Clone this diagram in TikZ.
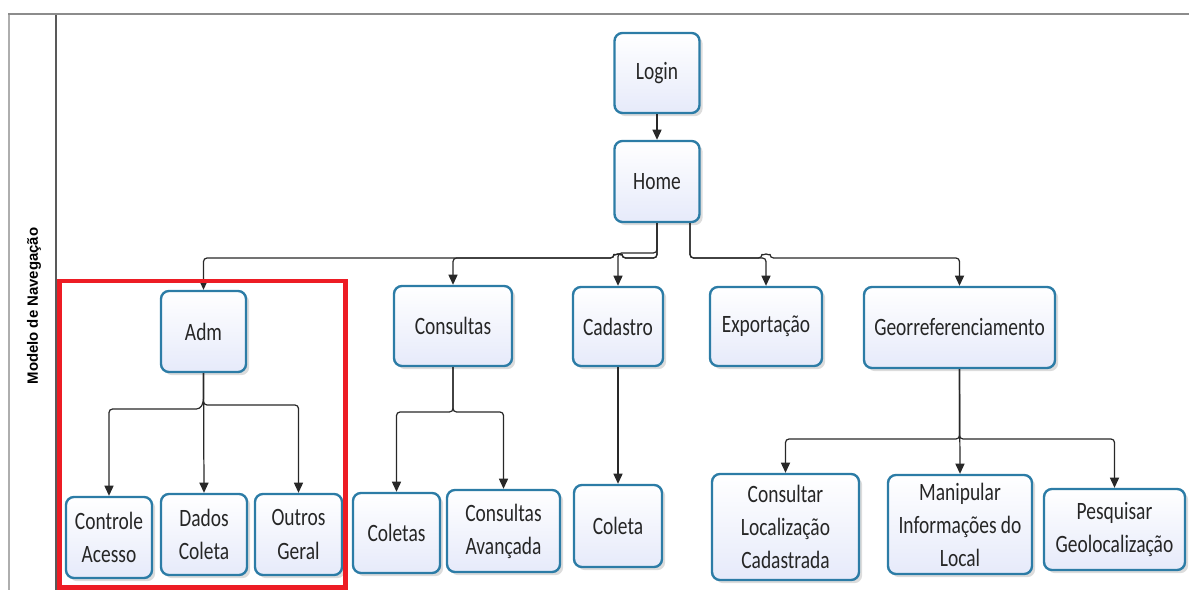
\documentclass[tikz,border=0pt]{standalone}
\usepackage{fontspec}
\setmainfont{Carlito}
\newfontfamily\boxfont[FakeStretch=0.78]{Carlito}
\newfontfamily\lanefont{Liberation Sans}
\usetikzlibrary{arrows.meta,shadows}
\definecolor{boxedge}{RGB}{44,124,166}
\definecolor{boxbottom}{RGB}{230,234,250}
\definecolor{conncol}{RGB}{40,40,40}
\definecolor{framecol}{RGB}{140,140,140}
\definecolor{hilite}{RGB}{237,28,36}
\tikzset{
  navbox/.style={draw=boxedge, line width=1.35pt, rounded corners=4.5pt,
    top color=white, bottom color=boxbottom, inner sep=0pt, align=center,
    text=black!85, font=\boxfont\fontsize{14.2}{18.8}\selectfont,
    drop shadow={shadow xshift=1.8pt, shadow yshift=-1.8pt, fill=black!30, opacity=0.45}},
  conn/.style={draw=conncol, line width=0.7pt, rounded corners=2pt,
    -{Triangle[length=5.8pt,width=5.2pt]}},
  hop/.style={draw=conncol, line width=0.7pt}
}
\newcommand{\bx}[5]{\node[navbox, minimum width=#3*0.02cm, minimum height=#4*0.02cm] (#1) at (#2) {#5};}
\begin{document}
\begin{tikzpicture}[x=0.02cm, y=-0.02cm]
\useasboundingbox (0,0) rectangle (1189,590);

% lane frame
\draw[framecol!70, line width=0.6pt] (9,14) -- (9,590);
\draw[black!65, line width=0.9pt] (56,14) -- (56,590);
\draw[framecol, line width=1.4pt] (8,14) -- (1189,14);
\node[rotate=90, font=\lanefont\bfseries\fontsize{8.5}{10}\selectfont] (lane) at (34,306) {Modelo de Navegação};

% boxes
\bx{login}{657,73}{85}{80}{Login}
\bx{home}{657,181.5}{85}{81}{Home}
\bx{adm}{203.5,331.5}{85}{81}{Adm}
\bx{consultas}{453,326}{118}{80}{Consultas}
\bx{cadastro}{618,326.5}{90}{79}{Cadastro}
\bx{export}{766,326.5}{112}{79}{Exportação}
\bx{georef}{959.5,327.5}{191}{81}{Georreferenciamento}
\bx{controle}{109,537.5}{86}{81}{Controle\\Acesso}
\bx{dados}{204,534.5}{86}{81}{Dados\\Coleta}
\bx{outros}{298.5,534.5}{87}{81}{Outros\\Geral}
\bx{coletas}{396.5,533}{87}{80}{Coletas}
\bx{consav}{503.5,531}{113}{82}{Consultas\\Avançada}
\bx{coleta}{618,526}{88}{82}{Coleta}
\bx{conloc}{785.5,527}{147}{106}{Consultar\\Localização\\Cadastrada}
\bx{manip}{960,524.5}{144}{99}{Manipular\\Informações do\\Local}
\bx{pesq}{1114.5,529.5}{141}{81}{Pesquisar\\Geolocalização}

% bus levels
\coordinate (busA) at (0,253);
\coordinate (busB) at (0,258);
\coordinate (admBus) at (0,405);
\coordinate (conBus) at (0,412);
\coordinate (geoBus) at (0,439);

% connectors
\draw[conn] (login.south) -- (home.north);

\draw[conn] (home.south) -- (home.south |- busA) -- (cadastro.north |- busA) -- (cadastro.north);
\draw[conn] (home.south) -- (home.south |- busB) -- (622,258)
  arc[start angle=0, end angle=180, radius=0.08cm] -- (adm.north |- busB) -- (adm.north);
\draw[conn] (home.south) -- (home.south |- busB) -- (622,258)
  arc[start angle=0, end angle=180, radius=0.08cm] -- (consultas.north |- busB) -- (consultas.north);
\draw[conn] ([xshift=0.66cm]home.south) -- ([xshift=0.66cm]home.south |- busB) -- (export.north |- busB) -- (export.north);
\draw[conn] ([xshift=0.66cm]home.south) -- ([xshift=0.66cm]home.south |- busB) -- (762,258)
  arc[start angle=180, end angle=0, radius=0.08cm] -- (georef.north |- busB) -- (georef.north);

\draw[conn] (adm.south) -- (adm.south |- admBus) -- (outros.north |- admBus) -- (outros.north);
\draw[conn] (adm.south) -- (dados.north);
\draw[conn] (adm.south) -- ([yshift=0.06cm]adm.south |- admBus) -- (200,409) -- (controle.north |- 0,409) -- (controle.north);

\draw[conn] (consultas.south) -- (consultas.south |- conBus) -- (coletas.north |- conBus) -- (coletas.north);
\draw[conn] (consultas.south) -- (consultas.south |- conBus) -- (consav.north |- conBus) -- (consav.north);

\draw[conn] (cadastro.south) -- (coleta.north);

\draw[conn] (georef.south) -- (georef.south |- geoBus) -- (conloc.north |- geoBus) -- (conloc.north);
\draw[conn] (georef.south) -- (manip.north);
\draw[conn] (georef.south) -- (georef.south |- geoBus) -- (pesq.north |- geoBus) -- (pesq.north);

% highlighted group
\draw[hilite, line width=2.5pt] (59.5,281) rectangle (345.5,587.5);
\end{tikzpicture}
\end{document}
